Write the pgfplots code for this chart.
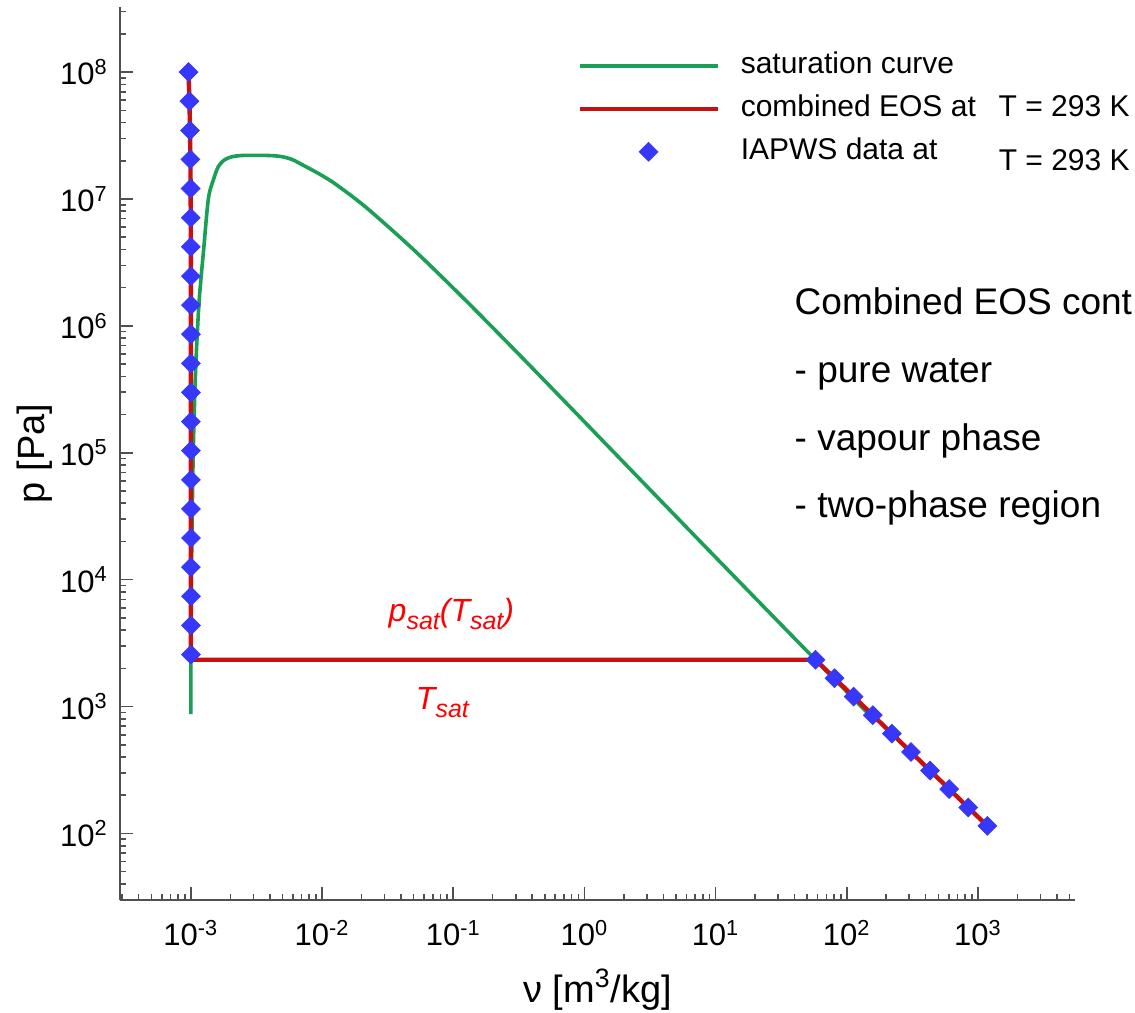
\documentclass[border=0pt]{standalone}
\usepackage{fontspec}
\setmainfont{Liberation Sans}
\usepackage{pgfplots}
\pgfplotsset{compat=1.18}

\definecolor{satgreen}{RGB}{25,160,85}
\definecolor{eosred}{RGB}{200,16,16}
\definecolor{iapblue}{RGB}{55,55,250}
\definecolor{axgray}{RGB}{80,80,80}

\newcommand{\fs}[1]{\fontsize{#1}{1.2\dimexpr#1\relax}\selectfont}
\newcommand{\sub}[1]{\raisebox{-4bp}{\fs{12.5bp}#1}}
\newcommand{\Tval}{T = 293 K}

\begin{document}
\begin{tikzpicture}
\useasboundingbox (0,0) rectangle (567.5bp,506.5bp);
\begin{axis}[
  at={(60bp,56.5bp)}, anchor=south west,
  scale only axis, width=477.5bp, height=446.5bp,
  xmode=log, ymode=log,
  xmin=2.884e-4, xmax=5.5e3,
  ymin=29.9, ymax=3.26e8,
  axis x line*=bottom, axis y line*=left,
  axis line style={-, draw=axgray, line width=1bp},
  tick align=inside,
  major tick length=6.5bp, minor tick length=3bp,
  every tick/.style={draw=axgray, line width=0.8bp},
  clip=false,
  xtick={1e-3,1e-2,1e-1,1,10,100,1000},
  xticklabels={10\textsuperscript{-3},10\textsuperscript{-2},10\textsuperscript{-1},10\textsuperscript{0},10\textsuperscript{1},10\textsuperscript{2},10\textsuperscript{3}},
  minor xtick={3e-4,4e-4,5e-4,6e-4,7e-4,8e-4,9e-4,
    2e-3,3e-3,4e-3,5e-3,6e-3,7e-3,8e-3,9e-3,
    2e-2,3e-2,4e-2,5e-2,6e-2,7e-2,8e-2,9e-2,
    0.2,0.3,0.4,0.5,0.6,0.7,0.8,0.9,
    2,3,4,5,6,7,8,9,
    20,30,40,50,60,70,80,90,
    200,300,400,500,600,700,800,900,
    2000,3000,4000,5000},
  ytick={1e2,1e3,1e4,1e5,1e6,1e7,1e8},
  yticklabels={10\textsuperscript{2},10\textsuperscript{3},10\textsuperscript{4},10\textsuperscript{5},10\textsuperscript{6},10\textsuperscript{7},10\textsuperscript{8}},
  minor ytick={40,50,60,70,80,90,
    200,300,400,500,600,700,800,900,
    2e3,3e3,4e3,5e3,6e3,7e3,8e3,9e3,
    2e4,3e4,4e4,5e4,6e4,7e4,8e4,9e4,
    2e5,3e5,4e5,5e5,6e5,7e5,8e5,9e5,
    2e6,3e6,4e6,5e6,6e6,7e6,8e6,9e6,
    2e7,3e7,4e7,5e7,6e7,7e7,8e7,9e7,
    2e8,3e8},
  xticklabel style={font=\fs{15.5bp}, anchor=base, yshift=-23bp},
  yticklabel style={font=\fs{15.5bp}, anchor=east, inner sep=0pt, xshift=-6bp},
  xlabel={ν [m\textsuperscript{3}/kg]},
  ylabel={p [Pa]},
  xlabel style={font=\fs{19bp}, at={(axis description cs:0.5,-0.115)}, anchor=base},
  ylabel style={font=\fs{19bp}, at={(axis description cs:-0.089,0.5)}, anchor=center, rotate=0},
  legend cell align=left,
  legend image code/.code={\draw[mark repeat=2,mark phase=2,#1] plot coordinates {(0bp,0bp) (34.5bp,0bp) (69bp,0bp)};},
  legend style={draw=none, fill=none, at={(rel axis cs:0.4785,0.886)}, anchor=west,
    font=\fs{15bp}, inner sep=0pt, row sep=7bp, column sep=10.5bp,
    nodes={inner sep=0pt, text height=11bp, text depth=3.5bp}},
]
% saturation curve (liquid branch, critical point, vapour branch)
\addplot[satgreen, line width=1.8bp, mark=none, smooth, tension=0.5] table {
v p
1.0001e-3 872
1.0018e-3 2339
1.0121e-3 12350
1.0435e-3 101420
1.0905e-3 476200
1.1565e-3 1.5549e6
1.2517e-3 3.9762e6
1.36e-3 1.0e7
1.48e-3 1.4e7
1.62e-3 1.8e7
1.80e-3 2.03e7
2.05e-3 2.15e7
2.4e-3 2.2e7
3.1e-3 2.21e7
4.0e-3 2.2e7
4.9e-3 2.16e7
5.9e-3 2.05e7
6.95e-3 1.88e7
8.8e-3 1.65e7
1.08e-2 1.46e7
1.3e-2 1.286e7
2.167e-2 8.5879e6
5.004e-2 3.9762e6
0.12716 1.5549e6
0.39248 476200
1.6719 101420
3.4053 47416
7.6677 19946
19.515 7384.9
32.879 4246.9
57.757 2339.3
106.31 1228.1
147.03 872.6
};
\addlegendentry{saturation curve}
% combined EOS isotherm, T = 293 K
\addplot[eosred, line width=2.2bp, mark=none] table {
v p
0.9602e-3 1e8
0.9756e-3 5.9e7
0.9862e-3 3.47e7
0.9926e-3 2.05e7
0.9963e-3 1.21e7
0.9986e-3 7.12e6
0.9999e-3 4.2e6
1.0007e-3 2.47e6
1.0011e-3 1.46e6
1.0014e-3 8.6e5
1.0016e-3 5.07e5
1.0018e-3 1.04e5
1.0018e-3 2339
57.76 2339
113.0 1197
308.9 438
1181 114.6
};
\addlegendentry{\makebox[129bp][l]{combined EOS at}\Tval}
% IAPWS reference points
\addplot[only marks, mark=square*, mark size=3.3bp, mark options={rotate=45, fill=iapblue, draw=iapblue}] table {
v p
0.9602e-3 1e8
0.9756e-3 5.9e7
0.9862e-3 3.47e7
0.9926e-3 2.05e7
0.9963e-3 1.21e7
0.9986e-3 7.12e6
0.9999e-3 4.2e6
1.0007e-3 2.47e6
1.0011e-3 1.46e6
1.0014e-3 8.6e5
1.0016e-3 5.07e5
1.0017e-3 2.99e5
1.0017e-3 1.76e5
1.0018e-3 1.04e5
1.0018e-3 6.12e4
1.0018e-3 3.61e4
1.0018e-3 2.13e4
1.0018e-3 1.255e4
1.0018e-3 7.4e3
1.0018e-3 4.36e3
1.0018e-3 2.57e3
57.8 2339
80.8 1674
113.0 1197
158.0 856
220.9 612
308.9 438
431.9 313
603.9 224
844.5 160
1181 114.6
};
\addlegendentry{\makebox[129bp][l]{IAPWS data at}\raisebox{-5.5bp}{\Tval}}

\node[anchor=base west, text=red, font=\fs{16bp}\itshape] at (axis cs:0.0285,4670) {p\sub{sat}(T\sub{sat})};
\node[anchor=base west, text=red, font=\fs{16bp}\itshape] at (axis cs:0.046,942) {T\sub{sat}};

\node[anchor=base west, font=\fs{18.5bp}] at (axis cs:35.5,1.22e6) {Combined EOS cont};
\node[anchor=base west, font=\fs{18.5bp}] at (axis cs:35.5,3.6e5) {- pure water};
\node[anchor=base west, font=\fs{18.5bp}] at (axis cs:35.5,1.047e5) {- vapour phase};
\node[anchor=base west, font=\fs{18.5bp}] at (axis cs:35.5,3.1e4) {- two-phase region};
\end{axis}
\end{tikzpicture}
\end{document}
